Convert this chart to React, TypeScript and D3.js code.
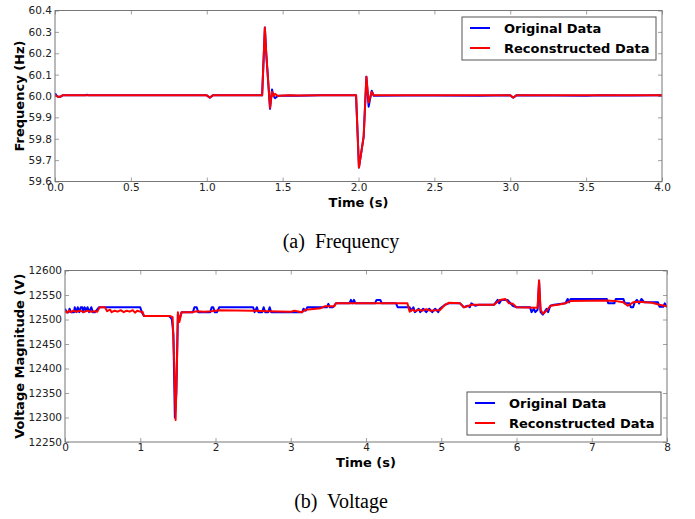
import React, { useEffect, useRef } from 'react';
import * as d3 from 'd3';

// (a) Frequency
const freqTime = [0, 0.01, 0.02, 0.035, 0.05, 0.2, 0.21, 0.22, 0.5, 0.8, 1.0, 1.02, 1.04, 1.2, 1.365, 1.383, 1.392, 1.417, 1.43, 1.44, 1.45, 1.47, 1.5, 1.55, 1.6, 1.75, 1.9, 1.984, 2.003, 2.034, 2.052, 2.067, 2.087, 2.1, 2.3, 2.5, 2.8, 3.0, 3.02, 3.04, 3.3, 3.5, 3.6, 3.8, 4.0];
const freqOriginal = [60.012, 60.003, 59.996, 59.996, 60.003, 60.003, 60.006, 60.003, 60.003, 60.003, 60.003, 59.992, 60.003, 60.003, 60.003, 60.32, 60.2, 59.94, 60.03, 60.0, 59.99, 60.001, 60.001, 60.002, 60.001, 60.003, 60.003, 60.003, 59.665, 59.81, 60.09, 59.95, 60.025, 60.001, 60.002, 60.002, 60.001, 60.003, 59.992, 60.003, 60.002, 60.001, 60.004, 60.002, 60.003];
const freqRecon = [60.005, 60.0, 59.996, 59.997, 60.003, 60.003, 60.004, 60.003, 60.003, 60.003, 60.003, 59.993, 60.003, 60.003, 60.003, 60.32, 60.2, 59.945, 60.02, 60.0, 60.01, 60.0, 60.002, 60.003, 60.002, 60.003, 60.003, 60.003, 59.665, 59.81, 60.09, 59.97, 60.02, 60.003, 60.003, 60.003, 60.003, 60.003, 59.993, 60.003, 60.003, 60.003, 60.003, 60.003, 60.003];
const freqXTicks = [0, 0.5, 1.0, 1.5, 2.0, 2.5, 3.0, 3.5, 4.0];
const freqYTicks = [59.6, 59.7, 59.8, 59.9, 60.0, 60.1, 60.2, 60.3, 60.4];

// (b) Voltage
const voltOrigTime = [0, 0.02, 0.05, 0.06, 0.08, 0.12, 0.13, 0.15, 0.17, 0.19, 0.21, 0.23, 0.24, 0.26, 0.28, 0.3, 0.32, 0.35, 0.37, 0.4, 0.45, 0.55, 1.0, 1.02, 1.05, 1.38, 1.4, 1.42, 1.44, 1.46, 1.48, 1.5, 1.52, 1.55, 1.7, 1.72, 1.75, 1.77, 1.93, 1.95, 1.97, 1.99, 2.02, 2.05, 2.5, 2.52, 2.55, 2.57, 2.62, 2.64, 2.66, 2.7, 2.72, 2.74, 3.15, 3.17, 3.2, 3.22, 3.48, 3.5, 3.52, 3.56, 3.6, 3.78, 3.8, 3.82, 3.84, 3.86, 4.12, 4.14, 4.19, 4.21, 4.4, 4.42, 4.58, 4.6, 4.63, 4.65, 4.7, 4.72, 4.76, 4.8, 4.84, 4.88, 4.92, 4.96, 4.98, 5.05, 5.1, 5.25, 5.3, 5.35, 5.38, 5.4, 5.45, 5.5, 5.7, 5.75, 5.77, 5.8, 5.88, 5.95, 6.0, 6.18, 6.2, 6.23, 6.25, 6.28, 6.3, 6.32, 6.35, 6.4, 6.42, 6.45, 6.5, 6.65, 6.68, 6.7, 6.72, 7.2, 7.22, 7.3, 7.32, 7.42, 7.44, 7.5, 7.52, 7.55, 7.57, 7.6, 7.63, 7.66, 7.7, 7.88, 7.9, 7.95, 7.97, 8.0];
const voltOriginal = [12522, 12515, 12515, 12522, 12515, 12515, 12525, 12515, 12525, 12515, 12525, 12525, 12515, 12525, 12518, 12525, 12515, 12525, 12515, 12515, 12525, 12525, 12525, 12515, 12507, 12507, 12505, 12500, 12470, 12300, 12350, 12510, 12500, 12515, 12515, 12525, 12525, 12515, 12515, 12525, 12525, 12515, 12515, 12525, 12525, 12515, 12525, 12515, 12515, 12525, 12515, 12515, 12525, 12515, 12515, 12522, 12518, 12525, 12525, 12532, 12525, 12525, 12533, 12533, 12540, 12533, 12540, 12533, 12533, 12540, 12540, 12533, 12533, 12525, 12525, 12518, 12525, 12515, 12522, 12515, 12522, 12515, 12522, 12515, 12522, 12515, 12522, 12530, 12533, 12533, 12525, 12528, 12525, 12533, 12528, 12530, 12530, 12540, 12533, 12540, 12540, 12528, 12525, 12525, 12515, 12522, 12515, 12520, 12578, 12515, 12510, 12522, 12515, 12528, 12530, 12533, 12542, 12535, 12542, 12542, 12533, 12533, 12542, 12542, 12533, 12533, 12525, 12525, 12535, 12540, 12533, 12542, 12535, 12535, 12526, 12526, 12533, 12525];
const voltReconTime = [0, 0.03, 0.05, 0.08, 0.11, 0.15, 0.2, 0.25, 0.3, 0.35, 0.4, 0.43, 0.46, 0.53, 0.56, 0.6, 0.62, 0.66, 0.7, 0.74, 0.78, 0.82, 0.86, 0.9, 0.93, 0.96, 1.0, 1.03, 1.05, 1.4, 1.43, 1.45, 1.47, 1.49, 1.5, 1.52, 1.55, 1.7, 1.75, 1.85, 1.95, 2.05, 2.5, 2.7, 3.0, 3.05, 3.15, 3.2, 3.4, 3.45, 3.58, 3.6, 4.55, 4.58, 4.62, 4.65, 4.7, 4.75, 4.8, 4.86, 4.92, 4.98, 5.05, 5.1, 5.25, 5.3, 5.35, 5.4, 5.7, 5.78, 5.85, 5.9, 5.95, 6.0, 6.28, 6.3, 6.32, 6.35, 6.4, 6.45, 6.55, 6.65, 6.72, 7.2, 7.3, 7.42, 7.48, 7.55, 7.62, 7.8, 7.9, 8.0];
const voltRecon = [12517, 12514, 12518, 12515, 12518, 12516, 12518, 12515, 12518, 12516, 12517, 12516, 12525, 12525, 12517, 12520, 12515, 12518, 12516, 12519, 12515, 12518, 12516, 12519, 12514, 12518, 12516, 12516, 12507, 12507, 12505, 12420, 12295, 12430, 12515, 12495, 12515, 12515, 12517, 12516, 12517, 12519, 12518, 12517, 12516, 12518, 12515, 12520, 12523, 12527, 12527, 12533, 12533, 12516, 12520, 12517, 12520, 12518, 12521, 12518, 12519, 12519, 12530, 12534, 12533, 12525, 12527, 12530, 12530, 12540, 12542, 12533, 12532, 12525, 12524, 12580, 12520, 12512, 12518, 12528, 12530, 12533, 12538, 12539, 12538, 12535, 12528, 12535, 12536, 12534, 12530, 12527];
const voltXTicks = [0, 1, 2, 3, 4, 5, 6, 7, 8];
const voltYTicks = [12250, 12300, 12350, 12400, 12450, 12500, 12550, 12600];

const legendLabels = ['Original Data', 'Reconstructed Data'];
const seriesColors = ['#0000ff', '#ff0000'];

const App = () => {
    const svgRef = useRef<SVGSVGElement>(null);

    useEffect(() => {
        const svg = d3.select(svgRef.current);
        svg.selectAll('*').remove();

        const drawPanel = (opts: any) => {
            const { left, top, right, bottom, xDomain, yDomain, xTicks, yTicks, xFmt, yFmt, series, ylabel, caption, legend } = opts;
            const x = d3.scaleLinear().domain(xDomain).range([left, right]);
            const y = d3.scaleLinear().domain(yDomain).range([bottom, top]);
            const g = svg.append('g');

            const clipId = 'clip-' + Math.round(top);
            g.append('clipPath').attr('id', clipId)
                .append('rect').attr('x', left).attr('y', top).attr('width', right - left).attr('height', bottom - top);

            const styleAxis = (sel: any) => {
                sel.select('.domain').remove();
                sel.selectAll('.tick line').attr('stroke', '#888').attr('stroke-width', 0.8);
                sel.selectAll('.tick text')
                    .style('font-family', '"DejaVu Sans", sans-serif')
                    .style('font-size', '10.5px')
                    .attr('fill', '#222');
            };

            g.append('g').attr('transform', `translate(0,${bottom})`)
                .call(d3.axisBottom(x).tickValues(xTicks).tickFormat(xFmt).tickSizeInner(-4).tickSizeOuter(0).tickPadding(2))
                .call(styleAxis);
            g.append('g').attr('transform', `translate(0,${top})`)
                .call(d3.axisTop(x).tickValues(xTicks).tickFormat(() => '').tickSizeInner(-4).tickSizeOuter(0))
                .call(styleAxis);
            g.append('g').attr('transform', `translate(${left},0)`)
                .call(d3.axisLeft(y).tickValues(yTicks).tickFormat(yFmt).tickSizeInner(-4).tickSizeOuter(0).tickPadding(3))
                .call(styleAxis);
            g.append('g').attr('transform', `translate(${right},0)`)
                .call(d3.axisRight(y).tickValues(yTicks).tickFormat(() => '').tickSizeInner(-4).tickSizeOuter(0))
                .call(styleAxis);

            series.forEach((s: any, i: number) => {
                const pts = s.t.map((t: number, k: number) => [t, s.v[k]]);
                g.append('path')
                    .attr('clip-path', `url(#${clipId})`)
                    .attr('d', d3.line().x((d: any) => x(d[0])).y((d: any) => y(d[1]))(pts))
                    .attr('fill', 'none')
                    .attr('stroke', seriesColors[i])
                    .attr('stroke-width', 2)
                    .attr('stroke-linejoin', 'round');
            });

            g.append('rect')
                .attr('x', left).attr('y', top).attr('width', right - left).attr('height', bottom - top)
                .attr('fill', 'none').attr('stroke', '#777').attr('stroke-width', 1);

            g.append('text')
                .attr('x', (left + right) / 2).attr('y', bottom + 25)
                .attr('text-anchor', 'middle')
                .style('font-family', '"DejaVu Sans", sans-serif')
                .style('font-size', '13px').style('font-weight', 'bold')
                .text('Time (s)');

            g.append('text')
                .attr('transform', `translate(${ylabel.x},${(top + bottom) / 2}) rotate(-90)`)
                .attr('text-anchor', 'middle')
                .style('font-family', '"DejaVu Sans", sans-serif')
                .style('font-size', '13px').style('font-weight', 'bold')
                .text(ylabel.text);

            g.append('text')
                .attr('x', 341).attr('y', caption.y)
                .attr('text-anchor', 'middle')
                .style('font-family', '"Liberation Serif", "Times New Roman", serif')
                .style('font-size', '20px')
                .style('white-space', 'pre')
                .text(caption.text);

            const lg = g.append('g');
            lg.append('rect')
                .attr('x', legend.x).attr('y', legend.y).attr('width', legend.w).attr('height', legend.h)
                .attr('fill', '#fff').attr('stroke', '#555').attr('stroke-width', 1);
            legendLabels.forEach((label, i) => {
                const ly = legend.y + 11 + i * 20;
                lg.append('line')
                    .attr('x1', legend.x + 8).attr('x2', legend.x + 28)
                    .attr('y1', ly).attr('y2', ly)
                    .attr('stroke', seriesColors[i]).attr('stroke-width', 2);
                lg.append('text')
                    .attr('x', legend.x + 42).attr('y', ly + 4.5)
                    .style('font-family', '"DejaVu Sans", sans-serif')
                    .style('font-size', '13px').style('font-weight', 'bold')
                    .text(label);
            });
        };

        drawPanel({
            left: 55, top: 10.5, right: 662, bottom: 181.5,
            xDomain: [0, 4], yDomain: [59.6, 60.4],
            xTicks: freqXTicks, yTicks: freqYTicks,
            xFmt: d3.format('.1f'), yFmt: d3.format('.1f'),
            series: [{ t: freqTime, v: freqOriginal }, { t: freqTime, v: freqRecon }],
            ylabel: { x: 24, text: 'Frequency (Hz)' },
            caption: { y: 248, text: '(a)  Frequency' },
            legend: { x: 462, y: 17, w: 194, h: 43 }
        });

        drawPanel({
            left: 65, top: 270.5, right: 667, bottom: 442,
            xDomain: [0, 8], yDomain: [12250, 12600],
            xTicks: voltXTicks, yTicks: voltYTicks,
            xFmt: d3.format('d'), yFmt: d3.format('d'),
            series: [{ t: voltOrigTime, v: voltOriginal }, { t: voltReconTime, v: voltRecon }],
            ylabel: { x: 24, text: 'Voltage Magnitude (V)' },
            caption: { y: 508, text: '(b)  Voltage' },
            legend: { x: 467, y: 392, w: 194, h: 43 }
        });
    }, []);

    return (
        <svg ref={svgRef} width={695} height={519}
            style={{ position: 'absolute', left: 0, top: 0, background: '#fff' }} />
    );
};

export default App;
